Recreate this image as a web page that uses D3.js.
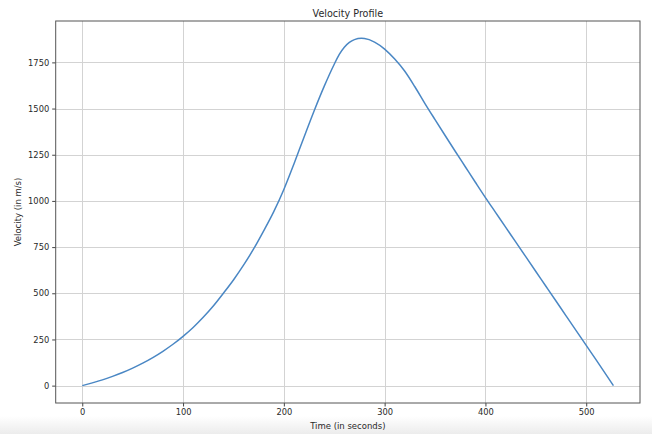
<!DOCTYPE html>
<html>
<head>
<meta charset="utf-8">
<script src="https://cdn.jsdelivr.net/npm/d3@7"></script>
<style>
  html, body { margin: 0; padding: 0; background: #fff; }
  svg { display: block; }
  text { font-family: "DejaVu Sans", sans-serif; fill: #2a2a2a; }
</style>
</head>
<body>
<script>
// ---- data ----
const times = [0, 10, 20, 30, 40, 50, 60, 70, 80, 90, 100, 110, 120, 130, 140, 150, 160, 170, 180, 190,
  200, 210, 220, 230, 240, 250, 255, 260, 265, 270, 277, 280, 290, 300, 310, 320, 330, 340, 350, 360, 370, 380,
  390, 400, 410, 420, 430, 440, 450, 460, 470, 480, 490, 500, 510, 520, 527];
const velocity = [0, 15, 31, 50, 71, 95, 122, 152, 186, 224, 267, 315, 370, 431, 500, 572, 652, 740, 838, 942,
  1062, 1200, 1345, 1487, 1620, 1740, 1793, 1832, 1858, 1873, 1880, 1879, 1860, 1822, 1768, 1702, 1618, 1527, 1440, 1354, 1269, 1185,
  1101, 1018, 938, 858, 778, 698, 618, 538, 458, 378, 298, 218, 138, 57, 0];
const xTicks = [0, 100, 200, 300, 400, 500];
const yTicks = [0, 250, 500, 750, 1000, 1250, 1500, 1750];
const titleText = "Velocity Profile";
const xLabel = "Time (in seconds)";
const yLabel = "Velocity (in m/s)";

const W = 652, H = 434;
const mLeft = 55.7, mRight = 640, mTop = 21, mBottom = 403;

const svg = d3.select("body").append("svg").attr("width", W).attr("height", H);

// bottom screenshot fade
const defs = svg.append("defs");
const grad = defs.append("linearGradient").attr("id", "fade").attr("x1", 0).attr("y1", 0).attr("x2", 0).attr("y2", 1);
grad.append("stop").attr("offset", "0%").attr("stop-color", "#ffffff");
grad.append("stop").attr("offset", "100%").attr("stop-color", "#ececec");
svg.append("rect").attr("x", 0).attr("y", 416).attr("width", W).attr("height", H - 416).attr("fill", "url(#fade)");

const tMax = d3.max(times), vMax = d3.max(velocity);
const x = d3.scaleLinear().domain([-0.05 * tMax, 1.05 * tMax]).range([mLeft, mRight]);
const y = d3.scaleLinear().domain([-0.05 * vMax, 1.05 * vMax]).range([mBottom, mTop]);

// grid
const grid = svg.append("g").attr("stroke", "#d3d3d3").attr("stroke-width", 1);
grid.selectAll("line.gx").data(xTicks).join("line").attr("class", "gx")
  .attr("x1", d => Math.round(x(d)) + 0.5).attr("x2", d => Math.round(x(d)) + 0.5)
  .attr("y1", mTop).attr("y2", mBottom);
grid.selectAll("line.gy").data(yTicks).join("line").attr("class", "gy")
  .attr("y1", d => Math.round(y(d)) + 0.5).attr("y2", d => Math.round(y(d)) + 0.5)
  .attr("x1", mLeft).attr("x2", mRight);

// line
const line = d3.line().x((d, i) => x(times[i])).y(d => y(d)).curve(d3.curveMonotoneX);
svg.append("path").datum(velocity).attr("d", line)
  .attr("fill", "none").attr("stroke", "#4a87c4").attr("stroke-width", 1.5)
  .attr("stroke-linejoin", "round").attr("stroke-linecap", "butt");

// axes
const xAxis = d3.axisBottom(x).tickValues(xTicks).tickSize(3.5).tickPadding(3).tickFormat(d3.format("d"));
const yAxis = d3.axisLeft(y).tickValues(yTicks).tickSize(3.5).tickPadding(3).tickFormat(d3.format("d"));
const gx = svg.append("g").attr("transform", `translate(0,${mBottom})`).call(xAxis);
const gy = svg.append("g").attr("transform", `translate(${mLeft},0)`).call(yAxis);
[gx, gy].forEach(g => {
  g.select(".domain").remove();
  g.selectAll(".tick line").attr("stroke", "#444");
  g.selectAll(".tick text").attr("font-size", "8.3px").attr("fill", "#2a2a2a")
    .attr("font-family", "DejaVu Sans, sans-serif");
});

// frame
svg.append("rect").attr("x", mLeft).attr("y", mTop).attr("width", mRight - mLeft).attr("height", mBottom - mTop)
  .attr("fill", "none").attr("stroke", "#555").attr("stroke-width", 1);

// texts
svg.append("text").attr("x", (mLeft + mRight) / 2).attr("y", 17).attr("text-anchor", "middle")
  .attr("font-size", "9.6px").text(titleText);
svg.append("text").attr("x", (mLeft + mRight) / 2).attr("y", 429).attr("text-anchor", "middle")
  .attr("font-size", "8.5px").text(xLabel);
svg.append("text").attr("transform", `translate(21,${(mTop + mBottom) / 2}) rotate(-90)`)
  .attr("text-anchor", "middle").attr("font-size", "8.5px").text(yLabel);
</script>
</body>
</html>
